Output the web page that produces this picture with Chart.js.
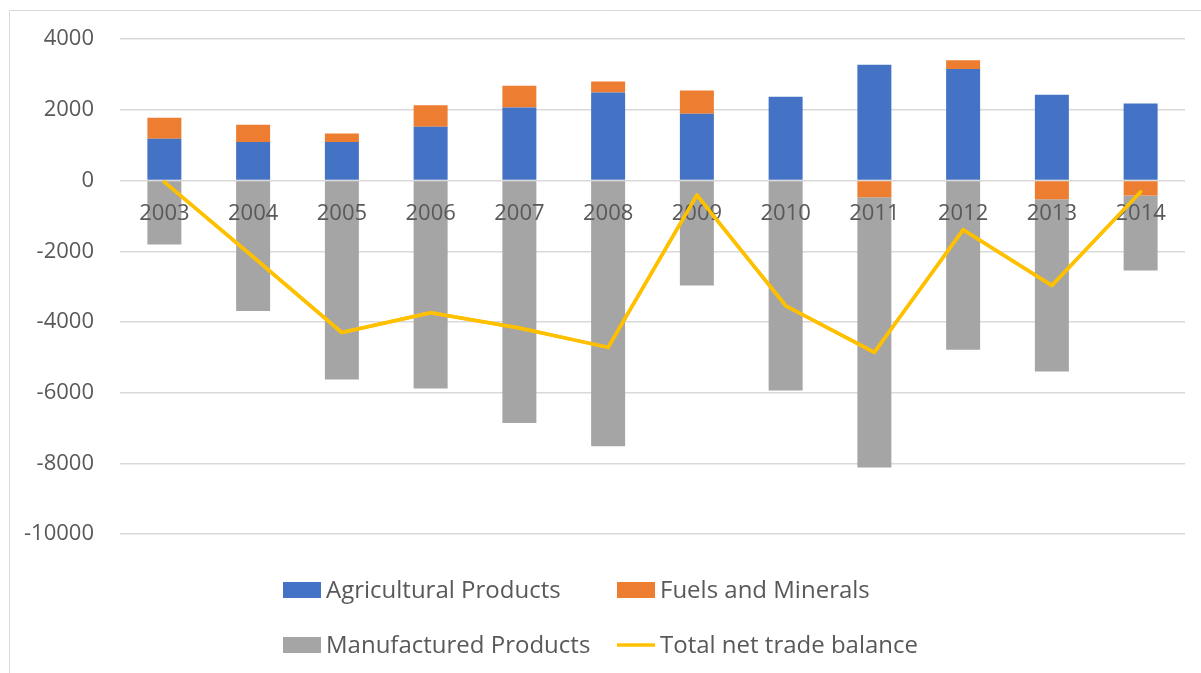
<!DOCTYPE html>
<html>
<head>
<meta charset="utf-8">
<title>Net trade balance</title>
<script src="https://cdn.jsdelivr.net/npm/chart.js"></script>
<style>
    html, body { margin: 0; padding: 0; background: #ffffff; }
    #wrap { position: relative; width: 1201px; height: 673px; }
</style>
</head>
<body>
<div id="wrap"><canvas id="myChart" width="1201" height="673"></canvas></div>
<script>
const years = ["2003", "2004", "2005", "2006", "2007", "2008", "2009", "2010", "2011", "2012", "2013", "2014"];
const agricultural = [1180, 1090, 1090, 1520, 2070, 2490, 1890, 2370, 3280, 3160, 2430, 2180];
const fuels = [595, 490, 240, 610, 610, 310, 660, 0, -470, 245, -525, -425];
const manufactured = [-1810, -3690, -5630, -5880, -6860, -7520, -2970, -5940, -7650, -4790, -4875, -2120];
const totalBalance = [-40, -2160, -4300, -3740, -4170, -4720, -410, -3540, -4860, -1390, -2970, -320];
const seriesNames = ["Agricultural Products", "Fuels and Minerals", "Manufactured Products", "Total net trade balance"];

const textColor = "#595959";
const fontFamily = "'Open Sans', sans-serif";

// thin grey frame like the spreadsheet chart border
const framePlugin = {
    id: "frame",
    beforeDraw(chart) {
        const ctx = chart.ctx;
        ctx.save();
        ctx.strokeStyle = "#d9d9d9";
        ctx.lineWidth = 1;
        ctx.beginPath();
        ctx.moveTo(9.5, chart.height);
        ctx.lineTo(9.5, 10.5);
        ctx.lineTo(chart.width, 10.5);
        ctx.stroke();
        ctx.restore();
    }
};

// year labels sit over the bars, but the total line goes over the labels
const lineOnTopPlugin = {
    id: "lineOnTop",
    afterDraw(chart) {
        const meta = chart.getDatasetMeta(3);
        const area = chart.chartArea;
        const ctx = chart.ctx;
        ctx.save();
        ctx.beginPath();
        ctx.rect(area.left, area.top, area.right - area.left, area.bottom - area.top);
        ctx.clip();
        meta.controller.draw();
        ctx.restore();
    }
};

// two-column legend under the plot
const legendPlugin = {
    id: "gridLegend",
    afterDraw(chart) {
        const ctx = chart.ctx;
        const sets = chart.data.datasets;
        const cols = [283, 617];
        const rows = [590, 645];
        ctx.save();
        ctx.font = "24px " + fontFamily;
        ctx.textBaseline = "middle";
        sets.forEach((ds, i) => {
            const x = cols[i % 2];
            const y = rows[Math.floor(i / 2)];
            if (ds.type === "line") {
                ctx.strokeStyle = ds.borderColor;
                ctx.lineWidth = 3.5;
                ctx.beginPath();
                ctx.moveTo(x, y);
                ctx.lineTo(x + 38, y);
                ctx.stroke();
            } else {
                ctx.fillStyle = ds.backgroundColor;
                ctx.fillRect(x, y - 8, 38, 16);
            }
            ctx.fillStyle = textColor;
            ctx.fillText(ds.label, x + 43, y + 1);
        });
        ctx.restore();
    }
};

const ctx = document.getElementById("myChart").getContext("2d");
const myChart = new Chart(ctx, {
    type: "bar",
    data: {
        labels: years,
        datasets: [
            { label: seriesNames[0], data: agricultural, backgroundColor: "#4472c4", stack: "trade" },
            { label: seriesNames[1], data: fuels, backgroundColor: "#ed7d31", stack: "trade" },
            { label: seriesNames[2], data: manufactured, backgroundColor: "#a5a5a5", stack: "trade" },
            {
                type: "line",
                label: seriesNames[3],
                data: totalBalance,
                borderColor: "#ffc000",
                backgroundColor: "#ffc000",
                borderWidth: 3.5,
                pointRadius: 0,
                tension: 0,
                borderJoinStyle: "round",
                borderCapStyle: "round",
                stack: "total",
                order: -1
            }
        ]
    },
    options: {
        responsive: false,
        animation: false,
        layout: { padding: { top: 37, right: 16, bottom: 139, left: 0 } },
        datasets: {
            bar: { barPercentage: 0.383, categoryPercentage: 1 }
        },
        scales: {
            x: {
                stacked: true,
                position: { y: 0 },
                grid: { display: false, drawTicks: false },
                border: { display: false },
                ticks: {
                    z: 1,
                    color: textColor,
                    font: { family: fontFamily, size: 22 },
                    padding: 20,
                    maxRotation: 0,
                    autoSkip: false
                }
            },
            y: {
                stacked: true,
                min: -10000,
                max: 4000,
                afterFit(scale) { scale.width = 120; },
                grid: { color: "#d9d9d9", lineWidth: 1.5, drawTicks: false },
                border: { display: false },
                ticks: {
                    stepSize: 2000,
                    color: textColor,
                    font: { family: fontFamily, size: 22 },
                    padding: 26,
                    callback: value => String(value)
                }
            }
        },
        plugins: {
            legend: { display: false },
            tooltip: { enabled: false }
        }
    },
    plugins: [framePlugin, lineOnTopPlugin, legendPlugin]
});
</script>
</body>
</html>
